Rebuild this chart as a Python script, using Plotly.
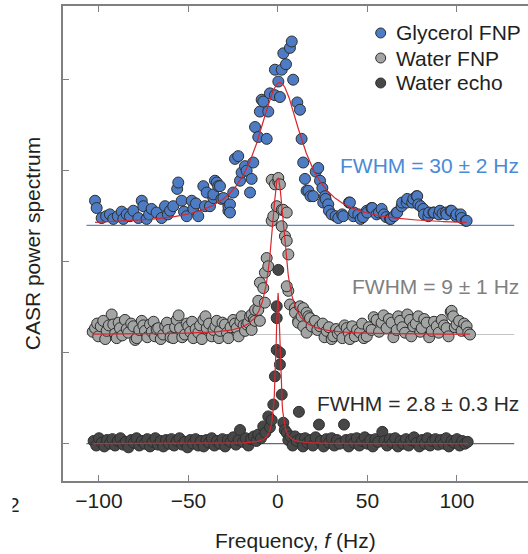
import numpy as np
import plotly.graph_objects as go

# ---------------- data ----------------
series_names = ["Glycerol FNP", "Water FNP", "Water echo"]
baseline_offsets = [2.4, 1.2, 0.0]          # vertical stacking offsets
fwhm_labels = ["FWHM = 30 ± 2 Hz", "FWHM = 9 ± 1 Hz", "FWHM = 2.8 ± 0.3 Hz"]
fit_fwhm = [30.0, 9.0, 2.8]
fit_center = [1.0, 0.0, 0.0]
fit_amplitude = [1.57, 1.72, 1.66]
x_ticks = [-100, -50, 0, 50, 100]
y_ticks = [0, 1, 2, 3, 4]

glycerol_f = [-102.2, -101.3, -98.5, -96, -93.9, -92, -89.5, -87.3, -86.4, -84.5, -82.7, -80.8, -78, -76.1, -75.2,
              -73.4, -72, -70.6, -67.8, -65, -63.1, -61.5, -60.3, -58.5, -56.3, -55.7, -53.8, -52.5, -51, -48.2,
              -47.3, -45.8, -44.5, -41.7, -40.8, -39.8, -38, -36.1, -36.1, -35.2, -34.2, -33.4, -32.4, -31.6,
              -30.5, -27.7, -27.7, -26.8, -26.8, -25, -24, -22.2, -21.2, -20.3, -18.4, -17.5, -15.6, -14.7,
              -13.8, -12.8, -11, -10.1, -9.1, -8.2, -6.3, -5.4, -4.5, -1.7, -1.7, 0.2, 1.1, 2.1, 3, 4.5, 6.7,
              7.7, 8.5, 10.8, 12.3, 13.2, 14.1, 15.1, 16, 17, 18.2, 19.7, 21.1, 22.5, 23.5, 24.8, 25.3, 26.3,
              26.6, 28.1, 28.5, 30, 32.2, 33.7, 35.9, 36.5, 39.7, 40.2, 42.1, 42.5, 44.9, 46.2, 47.5, 49.6,
              49.9, 52.3, 52.7, 55.1, 56.4, 57.9, 59.2, 60.5, 62.6, 63, 64.8, 66.3, 66.6, 69.1, 69.4, 71.9,
              72.2, 75, 75.6, 77.5, 77.8, 78.4, 79.7, 81.2, 81.6, 84, 84.4, 86.8, 87.2, 89.9, 90.5, 92, 93.7,
              94.2, 96.5, 97, 99.3, 99.8, 102.1, 102.6, 104.9, 105.4]
glycerol_p = [0.27, 0.19, 0.08, 0.10, 0.12, 0.07, 0.10, 0.15, 0.07, 0.12, 0.10, 0.16, 0.08, 0.27, 0.21,
              0.07, 0.12, 0.18, 0.14, 0.08, 0.21, 0.12, 0.16, 0.21, 0.40, 0.47, 0.27, 0.15, 0.10, 0.27,
              0.18, 0.24, 0.10, 0.43, 0.21, 0.36, 0.21, 0.30, 0.34, 0.49, 0.47, 0.43, 0.43, 0.29,
              0.30, 0.16, 0.21, 0.23, 0.14, 0.36, 0.73, 0.76, 0.49, 0.58, 0.65, 0.60, 0.36, 0.51,
              0.69, 1.08, 0.97, 1.25, 1.38, 1.36, 0.95, 1.25, 1.45, 1.43, 1.71, 1.58, 1.41, 1.71, 1.89, 1.77, 1.95,
              2.02, 1.60, 1.35, 1.27, 0.95, 0.69, 0.51, 0.38, 0.38, 0.32, 0.32, 0.59, 0.63, 0.49, 0.41, 0.25, 0.32,
              0.29, 0.23, 0.16, 0.12, 0.10, 0.08, 0.12, 0.10, 0.25, 0.25, 0.10, 0.14, 0.12, 0.07, 0.09, 0.16,
              0.14, 0.19, 0.19, 0.12, 0.14, 0.18, 0.12, 0.09, 0.07, 0.07, 0.10, 0.14, 0.14, 0.21, 0.25, 0.25,
              0.29, 0.25, 0.29, 0.32, 0.32, 0.23, 0.21, 0.18, 0.12, 0.10, 0.14, 0.14, 0.14, 0.12, 0.16, 0.13, 0.14,
              0.12, 0.16, 0.16, 0.10, 0.12, 0.12, 0.08, 0.05, 0.05]

water_f = [-103.5, -102.2, -101, -100.4, -99, -97.6, -96.5, -95.7, -94.5, -92.9, -92, -91, -90.1, -89, -88.3,
           -87, -85.5, -84.5, -83.6, -82, -80.8, -79.8, -78.9, -77.5, -76.1, -75.2, -74.3, -73, -71.5, -70.5,
           -69.5, -68.7, -67.8, -66.9, -65.5, -64.1, -63, -62, -61.3, -60, -58.5, -57.5, -56.6, -55.5, -54.7,
           -53.5, -52, -51, -50.1, -49, -48, -47.3, -46, -44.5, -43.5, -42.5, -41.7, -40.5, -39.8, -38.5, -37,
           -36, -35, -34.2, -33, -32.4, -31, -29.6, -28.5, -27.7, -26.5, -25, -24, -23.1, -22, -21, -20.3,
           -19.2, -18.4, -17.5, -16.6, -15.6, -14.7, -14.7, -13.5, -12.8, -12.8, -11, -11, -10.1, -10.1, -8.2,
           -7.3, -7.3, -6.3, -5.4, -3.5, -3.5, -2.6, -1.7, -0.7, 0.2, 0.2, 1.1, 2.1, 2.1, 3.0, 3.9, 4.9, 4.9,
           5.8, 5.8, 4.9, 6.7, 9.5, 9.5, 11.3, 11.3, 12.3, 13.2, 14.1, 14.1, 16, 16, 17, 17.9, 18.8, 20.7, 22,
           23.5, 25, 26, 27.2, 28.5, 30, 30.9, 32.5, 33.5, 34.6, 36, 37.2, 38.4, 39.5, 40.2, 41.5, 43, 44.2,
           45.8, 47, 48, 49.6, 50.8, 52.3, 53.5, 55.1, 56.5, 57.9, 59, 60.7, 62, 63.5, 64.5, 66.3, 67.2, 68.2,
           69.5, 71, 72.3, 73.7, 74.5, 75.6, 77, 78.4, 79.5, 80.3, 81.7, 83.1, 84.5, 85.9, 87.2, 88.7, 89.8,
           91.5, 92.8, 94.2, 95.3, 96.5, 97, 97.9, 98.8, 99.8, 101.2, 102.6, 104, 105.4, 106.3, 107.3]
water_p = [0.03, 0.07, 0.12, -0.02, 0.09, 0.15, -0.05, 0.04, 0.10, 0.22, 0.11, 0.01, -0.04, 0.13, 0.07,
           -0.01, 0.16, 0.06, 0.02, 0.12, 0.09, -0.06, -0.04, 0.05, 0.15, 0.10, 0.04, -0.03, 0.11, 0.03,
           0.14, -0.02, 0.06, 0.07, -0.05, 0.00, 0.09, 0.13, 0.05, -0.03, -0.04, 0.08, 0.16, 0.21, 0.07,
           -0.03, 0.00, 0.12, 0.09, 0.03, 0.14, -0.04, 0.06, 0.02, 0.10, -0.05, 0.16, 0.20, 0.07, 0.12, -0.02,
           0.05, 0.09, 0.15, -0.04, 0.04, 0.13, 0.11, 0.02, -0.04, 0.08, 0.16, 0.12, 0.07, -0.02, 0.14, 0.20,
           0.10, 0.04, 0.11, 0.13, 0.20, 0.22, 0.05, 0.17, 0.27, 0.15, 0.27, 0.37, 0.57, 0.15, 0.51,
           0.35, 0.68, 0.84, 0.75, 1.25, 1.70, 1.30, 1.65, 1.41, 1.68, 1.72, 1.65, 1.37, 1.19, 1.37, 1.08, 1.34, 1.03,
           0.88, 0.48, 0.53, 0.33, 0.29, 0.24, 0.15, 0.13, 0.31, 0.20, 0.29, 0.09, 0.24, 0.02, 0.20, 0.18, 0.09, 0.15, 0.05,
           0.09, 0.12, -0.03, 0.04, 0.08, -0.05, -0.02, 0.06, 0.01, 0.04, -0.04, 0.10, 0.07, 0.02, -0.05, 0.09, -0.02, 0.05,
           0.02, 0.12, -0.04, -0.02, 0.08, 0.05, 0.19, 0.16, 0.03, 0.13, 0.21, 0.07, 0.17, 0.13, -0.03, 0.05, 0.20, 0.15,
           0.08, 0.02, 0.22, 0.16, -0.02, 0.09, 0.12, 0.20, 0.03, 0.07, 0.17, 0.13, -0.03, 0.04, 0.14, 0.09, 0.02,
           0.16, 0.10, 0.07, -0.02, 0.25, 0.26, 0.20, 0.08, 0.11, 0.15, 0.04, 0.12, 0.09, 0.02, 0.00]

echo_f = [-103, -101.5, -100, -98.5, -97, -95.5, -94, -92.5, -91, -89.5, -88, -86.5, -85, -83.5, -82, -80.5,
          -79, -77.5, -76, -74.5, -73, -71.5, -70, -68.5, -67, -65.5, -64, -62.5, -61, -59.5, -58, -56.5, -55,
          -53.5, -52, -50.5, -49, -47.5, -46, -44.5, -43, -41.5, -40, -38.5, -37, -35.5, -34, -32.5, -31, -29.5,
          -28, -26.5, -25, -23.5, -22, -21.2, -19.5, -18, -16.5, -15, -13.5, -12, -11, -9.5, -8.2, -7, -5.4,
          -4.5, -3.5, -2.6, -1.7, -0.7, -0.7, -0.7, 0.2, 1.1, 1.1, 2.1, 3.0, 3.8, 4.9, 5.8, 7, 8.2, 9.5, 10.5,
          11.7, 12.8, 14, 15.2, 16.5, 18, 19.5, 21, 22.9, 24, 25.5, 27, 28.5, 30, 31.5, 33, 34.5, 36.9, 38,
          39.5, 41, 42.5, 44, 45.5, 47, 48.5, 50, 51.5, 53, 54.5, 56, 58.3, 59.5, 61, 62.5, 64, 65.5, 67, 68.5,
          70, 71.5, 73, 74.5, 76, 77.5, 79, 80.5, 82, 83.5, 85, 86.5, 88, 89.5, 91, 92.5, 94, 95.5, 97, 98.5,
          100, 101.5, 103, 104.5, 106]
echo_p = [0.03, -0.02, 0.06, 0.01, -0.03, 0.04, 0.00, 0.05, -0.02, 0.03, 0.06, -0.01, 0.02, -0.04, 0.04, 0.01,
          0.06, -0.02, 0.03, 0.00, 0.05, -0.03, 0.02, 0.06, -0.01, 0.03, -0.03, 0.04, 0.00, 0.05, -0.02, 0.03, 0.06,
          -0.01, 0.02, -0.04, 0.04, 0.00, 0.05, -0.02, 0.03, -0.03, 0.04, 0.01, 0.06, -0.02, 0.03, 0.00, 0.05, -0.03,
          0.04, 0.02, 0.07, -0.01, 0.04, 0.15, 0.02, 0.06, -0.02, 0.05, 0.08, 0.03, 0.10, 0.06, 0.19, 0.12, 0.30,
          0.18, 0.26, 0.43, 0.74, 1.03, 1.38, 1.51, 1.91, 1.00, 0.87, 0.54, 0.23, 0.15, 0.12, 0.04, 0.08, -0.02, 0.08, 0.03,
          0.35, 0.05, -0.03, 0.06, 0.01, 0.04, -0.02, 0.07, 0.21, 0.03, -0.03, 0.05, 0.01, 0.06, -0.02, 0.04, 0.00, 0.21, 0.04,
          -0.03, 0.05, 0.01, 0.06, -0.02, 0.03, 0.07, 0.00, 0.04, -0.03, 0.05, 0.02, 0.13, 0.03, -0.02, 0.05, 0.01, 0.06, -0.03, 0.03,
          0.00, 0.05, -0.02, 0.04, 0.07, 0.01, -0.03, 0.04, 0.00, 0.06, -0.02, 0.03, 0.05, -0.01, 0.04, 0.00, 0.06, -0.03, 0.03, 0.01,
          0.05, -0.02, 0.03, 0.00, 0.02]

series_f = [glycerol_f, water_f, echo_f]
series_p = [glycerol_p, water_p, echo_p]

# ---------------- styles ----------------
fill_colors = ["#4d7cc5", "#a3a5a5", "#474747"]
base_colors = ["#5b86cc", "#c4c4c4", "#6a6a6a"]
label_colors = ["#4a8ad6", "#808080", "#2a2a2a"]
label_y_paper = [0.665, 0.410, 0.163]
legend_y_paper = [0.9432, 0.8905, 0.8379]
fit_color = "#d8262e"
axis_color = "#808080"
text_color = "#231f20"
FONT = "Liberation Sans, Arial, Helvetica, sans-serif"
FS = 21

fig = go.Figure()

# baselines behind data
for off, col in zip(baseline_offsets, base_colors):
    fig.add_shape(type="line", xref="x", yref="y", x0=-107, x1=132, y0=off, y1=off,
                  line=dict(color=col, width=1.2), layer="below")

# data points
for name, f, p, off, col in zip(series_names, series_f, series_p, baseline_offsets, fill_colors):
    fig.add_trace(go.Scatter(
        x=f, y=[v + off for v in p], mode="markers", name=name, showlegend=False,
        marker=dict(size=11, color=col, line=dict(color="#2e2e2e", width=1)),
    ))

# Lorentzian fits
for f, off, w, c, a in zip(series_f, baseline_offsets, fit_fwhm, fit_center, fit_amplitude):
    xf = np.linspace(min(f), max(f), 800)
    g = w / 2.0
    yf = off + a / (1.0 + ((xf - c) / g) ** 2)
    fig.add_trace(go.Scatter(x=xf, y=yf, mode="lines", showlegend=False,
                             line=dict(color=fit_color, width=1.2), hoverinfo="skip"))

# legend (symbol + text), compact like the reference
for name, col, yp in zip(series_names, fill_colors, legend_y_paper):
    fig.add_shape(type="circle", xref="paper", yref="paper", xsizemode="pixel", ysizemode="pixel",
                  xanchor=0.6832, yanchor=yp, x0=-5, x1=5, y0=-5, y1=5,
                  fillcolor=col, line=dict(color="#2e2e2e", width=1), layer="above")
    fig.add_annotation(text=name, xref="paper", yref="paper", x=0.712, y=yp,
                       xanchor="left", yanchor="middle", showarrow=False,
                       font=dict(family=FONT, size=FS, color=text_color))

# FWHM labels
for txt, col, yp in zip(fwhm_labels, label_colors, label_y_paper):
    fig.add_annotation(text=txt, xref="paper", yref="paper", x=0.985, y=yp,
                       xanchor="right", yanchor="middle", showarrow=False,
                       font=dict(family=FONT, size=FS, color=col))

# axis titles
fig.add_annotation(text="CASR power spectrum", xref="paper", yref="paper",
                   x=-0.065, y=0.5, textangle=-90, showarrow=False,
                   xanchor="center", yanchor="middle",
                   font=dict(family=FONT, size=FS, color=text_color))
fig.add_annotation(text="Frequency, <i>f</i> (Hz)", xref="paper", yref="paper",
                   x=0.5, y=-0.125, showarrow=False, xanchor="center", yanchor="middle",
                   font=dict(family=FONT, size=FS, color=text_color))
# cropped panel label fragment at far left (left half hidden by a white box drawn over it)
fig.add_annotation(text="2", xref="paper", yref="paper", x=-0.088, y=-0.05,
                   xanchor="right", yanchor="middle", showarrow=False,
                   font=dict(family=FONT, size=FS, color=text_color))
fig.add_annotation(text=" ", xref="paper", yref="paper", x=-0.108, y=-0.05,
                   xanchor="right", yanchor="middle", showarrow=False,
                   width=12, height=28, bgcolor="white", borderpad=0,
                   font=dict(family=FONT, size=FS, color="white"))

fig.update_xaxes(range=[-120.1, 139.7], tickvals=x_ticks, ticks="inside", ticklen=6,
                 tickwidth=1.3, tickcolor=axis_color, showline=True, linecolor=axis_color,
                 linewidth=1.8, mirror="ticks", showgrid=False, zeroline=False,
                 tickfont=dict(family=FONT, size=FS, color=text_color))
fig.update_yaxes(range=[-0.41, 4.81], tickvals=y_ticks, showticklabels=False, ticks="inside",
                 ticklen=6, tickwidth=1.3, tickcolor=axis_color, showline=True,
                 linecolor=axis_color, linewidth=1.8, mirror=False, showgrid=False, zeroline=False)

fig.update_layout(
    width=528, height=554,
    margin=dict(l=63, r=0, t=6, b=73),
    plot_bgcolor="white", paper_bgcolor="white",
    font=dict(family=FONT, size=FS, color=text_color),
    showlegend=False,
)

fig.write_html("out.html")
